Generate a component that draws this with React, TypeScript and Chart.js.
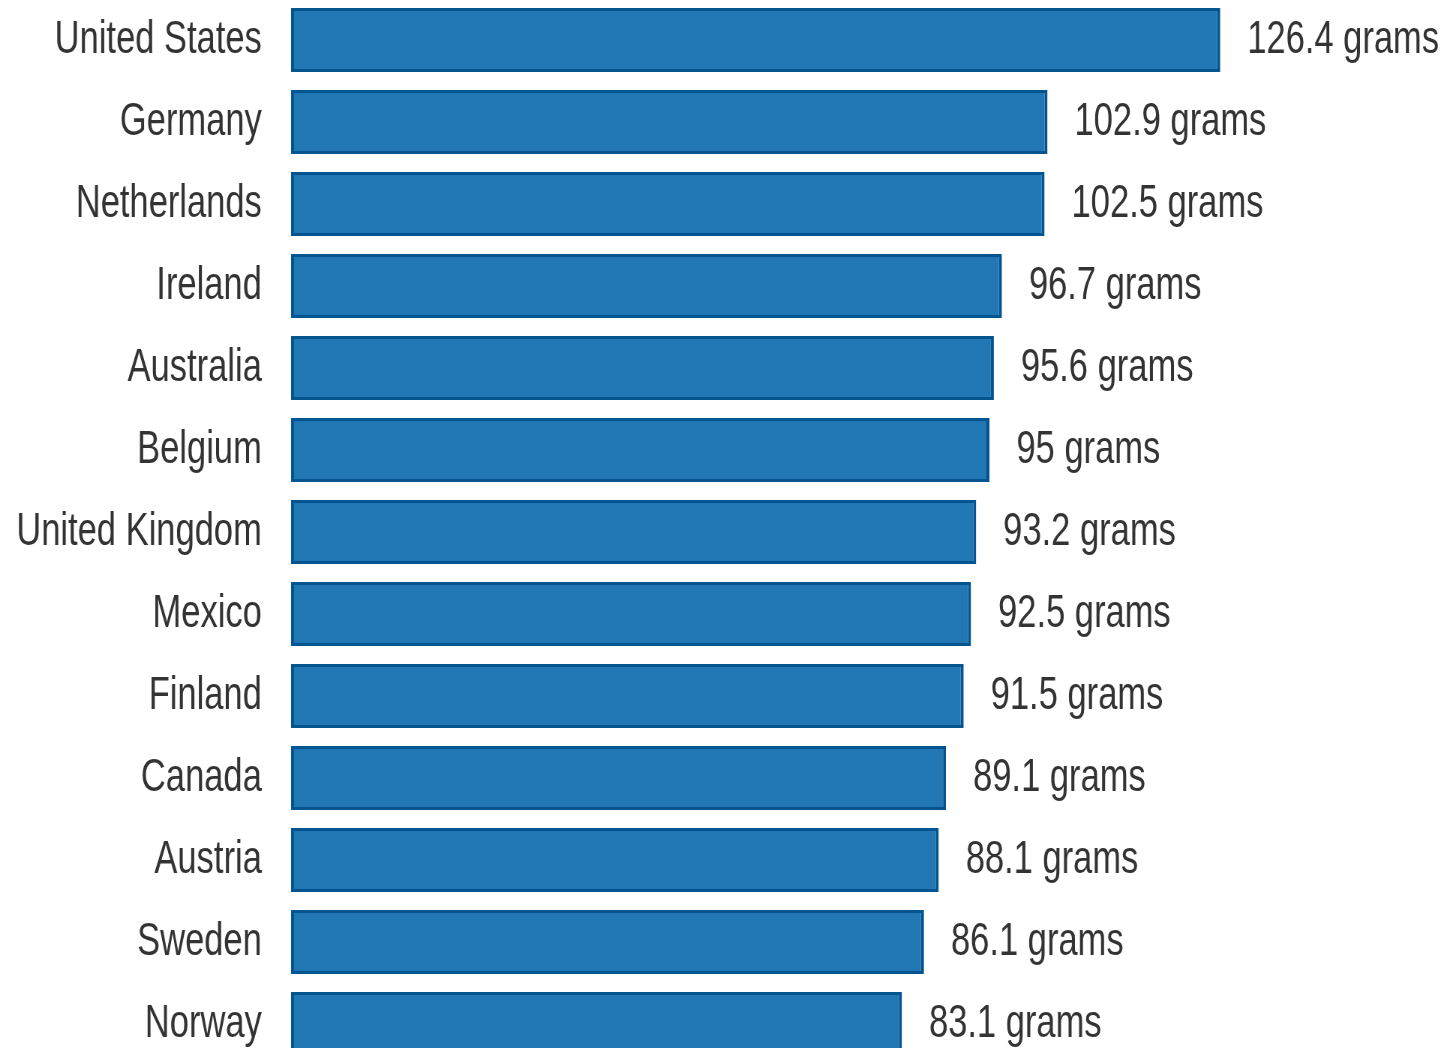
import React, { useEffect, useRef } from "react";
import { Chart, registerables } from "chart.js";

Chart.register(...registerables);

// Per-country values
const countries = [
  "United States",
  "Germany",
  "Netherlands",
  "Ireland",
  "Australia",
  "Belgium",
  "United Kingdom",
  "Mexico",
  "Finland",
  "Canada",
  "Austria",
  "Sweden",
  "Norway",
];
const grams = [126.4, 102.9, 102.5, 96.7, 95.6, 95, 93.2, 92.5, 91.5, 89.1, 88.1, 86.1, 83.1];
const unit = "grams";

// Layout: the canvas is drawn wider than it is shown, which gives the narrow lettering
const VIEW_W = 1450;
const VIEW_H = 1048;
const SQUEEZE = 0.75;
const CANVAS_W = Math.round(VIEW_W / SQUEEZE);
const CANVAS_H = 1066;
const AXIS_W = 291 / SQUEEZE;
const X_MAX = 150;
const PX_PER_UNIT = 7.35 / SQUEEZE;
const RIGHT_PAD = CANVAS_W - AXIS_W - X_MAX * PX_PER_UNIT;

const BAR_FILL = "#2077b4";
const BAR_EDGE = "#03548f";
const TEXT = "#333333";
const FONT_FAMILY = '"Liberation Sans", Arial, sans-serif';
const FONT_SIZE = 46;

const valueLabels = {
  id: "valueLabels",
  afterDatasetsDraw(chart: any) {
    const { ctx } = chart;
    const meta = chart.getDatasetMeta(0);
    ctx.save();
    ctx.font = `${FONT_SIZE}px ${FONT_FAMILY}`;
    ctx.fillStyle = TEXT;
    ctx.textAlign = "left";
    ctx.textBaseline = "middle";
    meta.data.forEach((bar: any, i: number) => {
      ctx.fillText(`${grams[i]} ${unit}`, bar.x + 36, bar.y);
    });
    ctx.restore();
  },
};

export default function App() {
  const canvasRef = useRef<HTMLCanvasElement | null>(null);

  useEffect(() => {
    const canvas = canvasRef.current;
    if (!canvas) return;
    const chart = new Chart(canvas, {
      type: "bar",
      data: {
        labels: countries,
        datasets: [
          {
            data: grams,
            backgroundColor: BAR_FILL,
            borderColor: BAR_EDGE,
            borderWidth: { top: 3, bottom: 3, left: 4, right: 4 },
            borderSkipped: false,
            categoryPercentage: 1,
            barPercentage: 0.78,
          },
        ],
      },
      options: {
        indexAxis: "y",
        responsive: false,
        animation: false,
        devicePixelRatio: 1,
        layout: { padding: { left: 0, right: RIGHT_PAD, top: 0, bottom: 0 } },
        plugins: {
          legend: { display: false },
          tooltip: { enabled: false },
        },
        scales: {
          x: {
            display: false,
            min: 0,
            max: X_MAX,
          },
          y: {
            grid: { display: false, drawTicks: false },
            border: { display: false },
            ticks: {
              color: TEXT,
              padding: 39,
              font: { family: FONT_FAMILY, size: FONT_SIZE },
            },
            afterFit(scale: any) {
              scale.width = AXIS_W;
              // categories fill the full height; no extra room for the end labels
              scale.paddingTop = 0;
              scale.paddingBottom = 0;
            },
          },
        },
      },
      plugins: [valueLabels],
    });
    return () => chart.destroy();
  }, []);

  return (
    <div
      style={{
        position: "fixed",
        left: 0,
        top: 0,
        width: VIEW_W,
        height: VIEW_H,
        overflow: "hidden",
        background: "#ffffff",
      }}
    >
      <canvas
        ref={canvasRef}
        width={CANVAS_W}
        height={CANVAS_H}
        style={{
          display: "block",
          marginTop: -1,
          width: `${VIEW_W}px`,
          height: `${CANVAS_H}px`,
        }}
      />
    </div>
  );
}
